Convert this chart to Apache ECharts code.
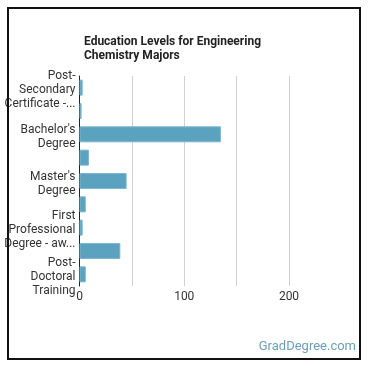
<!DOCTYPE html>
<html><head><meta charset="utf-8">
<script src="https://cdn.jsdelivr.net/npm/echarts@6/dist/echarts.min.js"></script>
<style>html,body{margin:0;padding:0;background:#fff}#c{width:370px;height:370px}</style>
</head><body><div id="c"></div>
<script>
const titleText = "Education Levels for Engineering\nChemistry Majors";
const categories = [
  "Post-Secondary Certificate - Less Than 1 Year",
  "Associate's Degree",
  "Bachelor's Degree",
  "Post-Baccalaureate Certificate",
  "Master's Degree",
  "Post-Master's Certificate",
  "First Professional Degree - awarded before 2011",
  "Doctor's Degree",
  "Post-Doctoral Training"
];
const values = [3, 2, 135, 9, 45, 6, 3, 39, 6];
const xTicks = [0, 100, 200];
const watermark = "GradDegree.com";

const FONT = 'Roboto, "Noto Sans", sans-serif';
const ctx = document.createElement('canvas').getContext('2d');
ctx.font = '12px ' + FONT;
const MAXW = 72;
function w(s){ return ctx.measureText(s).width; }
function wrap(text){
  const tokens = text.match(/[^\s-]*-\s*|[^\s-]+\s*/g) || [text];
  const lines = [];
  let cur = '';
  let i = 0;
  while (i < tokens.length && lines.length < 2) {
    const t = tokens[i];
    if (cur === '') { cur = t; i++; continue; }
    if (w((cur + t).trim()) <= MAXW) { cur += t; i++; }
    else { lines.push(cur.trim()); cur = ''; }
  }
  let rest = (cur + tokens.slice(i).join('')).trim();
  if (lines.length < 2) { if (rest) lines.push(rest); return lines; }
  if (w(rest) > MAXW) {
    let s = rest;
    while (s.length && w(s + '...') > MAXW) s = s.slice(0, -1);
    rest = s + '...';
  }
  if (rest) lines.push(rest);
  return lines;
}
function fmt(v){
  return '{s| }\n' + wrap(v).map(l => '{t|' + l + '}').join('\n');
}

const chart = echarts.init(document.getElementById('c'), null, {renderer:'canvas'});
chart.setOption({
  animation: false,
  backgroundColor: '#fff',
  title: {
    text: titleText, left: 79, top: 30,
    textStyle: {fontFamily: FONT, fontSize: 12, fontWeight: 'bold', color: '#222', lineHeight: 14}
  },
  graphic: [
    {type:'rect', shape:{x:8, y:8, width:352, height:351}, style:{fill:'none', stroke:'#111', lineWidth:2}, silent:true, z:100},
    {type:'text', right: 14, top: 340, style:{text: watermark, font: '13px ' + FONT, fill:'#6a9fb8'}}
  ],
  grid: {left: 79.5, top: 76, right: 81, bottom: 84, containLabel: false},
  xAxis: {
    type: 'value', min: 0, max: 200, interval: 50,
    axisLine: {show:false}, axisTick: {show:false},
    splitLine: {show:true, lineStyle:{color:'#d0d0d0', width:1}},
    axisLabel: {
      fontFamily: FONT, fontSize: 12, color: '#333', margin: 5,
      formatter: v => xTicks.indexOf(v) >= 0 ? String(v) : ''
    }
  },
  yAxis: {
    type: 'category', data: categories, inverse: true,
    axisLine: {show:true, lineStyle:{color:'#222', width:1}},
    axisTick: {show:false},
    axisLabel: {
      interval: 1, showMinLabel: true, showMaxLabel: true, hideOverlap: false,
      fontFamily: FONT, fontSize: 12, color: '#333', margin: 4,
      align: 'right', formatter: fmt,
      rich: {
        s: {fontSize: 1, lineHeight: 5, fontFamily: FONT},
        t: {fontSize: 12, lineHeight: 14, fontFamily: FONT, color: '#333', align: 'right'}
      }
    }
  },
  series: [{
    type: 'bar', data: values, barWidth: 16,
    itemStyle: {color: '#5ba2c0', borderColor: '#7db6cd', borderWidth: 1}
  }]
});
</script></body></html>
